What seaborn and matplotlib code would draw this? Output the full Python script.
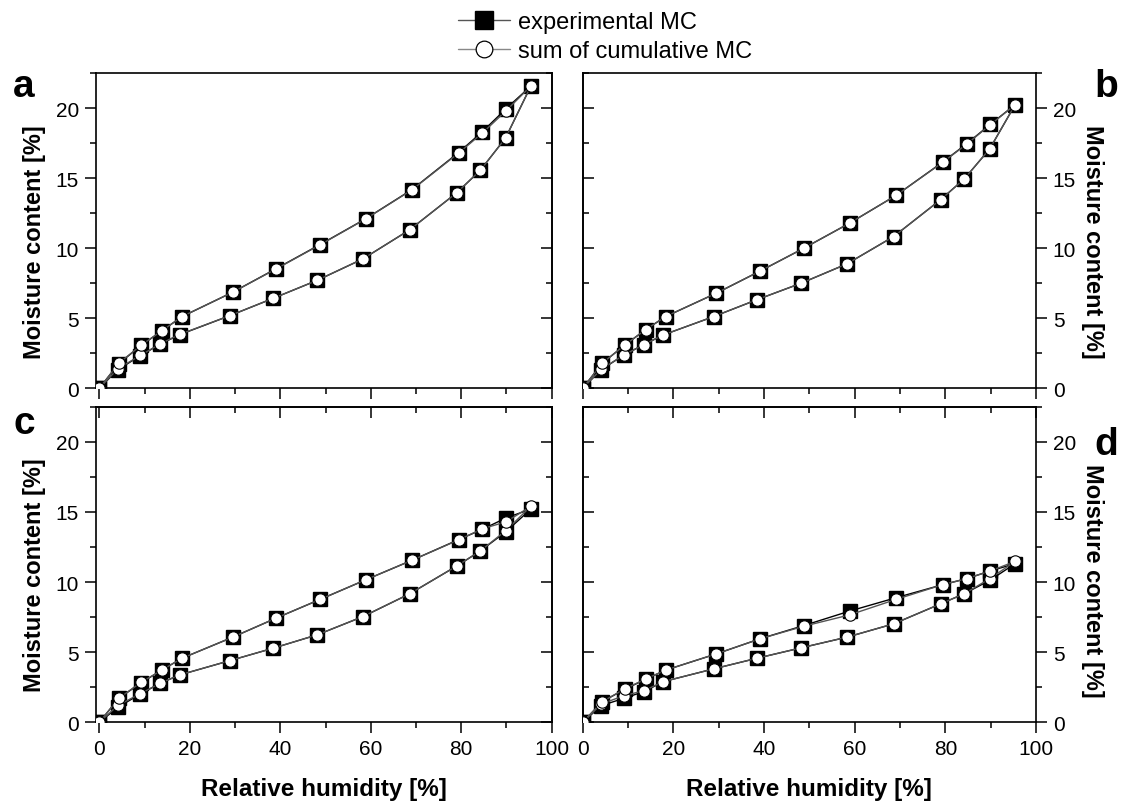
import matplotlib
matplotlib.use('Agg')
import matplotlib.pyplot as plt
import seaborn as sns
from matplotlib.lines import Line2D
from matplotlib.ticker import MultipleLocator

# ---------------- data ----------------
rh_ads = [0, 4.1, 9.1, 13.5, 17.8, 28.9, 38.5, 48.2, 58.3, 68.6, 79.0, 84.2, 89.8, 95.4]
rh_des = [95.4, 89.9, 84.7, 79.4, 69.1, 58.9, 48.8, 39.1, 29.5, 18.3, 13.9, 9.3, 4.3, 0]

a_ads_exp = [0, 1.33, 2.33, 3.16, 3.83, 5.19, 6.43, 7.71, 9.24, 11.31, 13.95, 15.55, 17.86, 21.57]
a_des_exp = [21.57, 19.95, 18.32, 16.82, 14.18, 12.10, 10.26, 8.54, 6.86, 5.12, 4.12, 3.07, 1.76, 0]
a_ads_cum = [0, 1.40, 2.35, 3.18, 3.85, 5.19, 6.43, 7.71, 9.24, 11.31, 13.95, 15.55, 17.86, 21.57]
a_des_cum = [21.57, 19.80, 18.22, 16.78, 14.16, 12.09, 10.24, 8.52, 6.86, 5.12, 4.12, 3.09, 1.79, 0]

b_ads_exp = [0, 1.33, 2.38, 3.12, 3.81, 5.12, 6.33, 7.50, 8.88, 10.83, 13.47, 14.95, 17.09, 20.24]
b_des_exp = [20.24, 18.83, 17.45, 16.14, 13.76, 11.79, 10.00, 8.36, 6.79, 5.12, 4.19, 3.09, 1.79, 0]
b_ads_cum = [0, 1.36, 2.38, 3.12, 3.81, 5.12, 6.33, 7.50, 8.88, 10.83, 13.47, 14.95, 17.09, 20.24]
b_des_cum = [20.24, 18.80, 17.42, 16.12, 13.76, 11.79, 10.00, 8.36, 6.79, 5.12, 4.19, 3.09, 1.79, 0]

c_ads_exp = [0, 1.07, 2.02, 2.79, 3.38, 4.40, 5.29, 6.24, 7.54, 9.16, 11.14, 12.21, 13.57, 15.20]
c_des_exp = [15.20, 14.57, 13.76, 13.02, 11.55, 10.16, 8.76, 7.43, 6.07, 4.57, 3.74, 2.83, 1.71, 0]
c_ads_cum = [0, 1.20, 2.05, 2.79, 3.38, 4.40, 5.29, 6.24, 7.54, 9.16, 11.14, 12.21, 13.65, 15.40]
c_des_cum = [15.40, 14.29, 13.80, 13.00, 11.55, 10.16, 8.76, 7.43, 6.07, 4.57, 3.74, 2.86, 1.71, 0]

d_ads_exp = [0, 1.19, 1.71, 2.19, 2.90, 3.81, 4.57, 5.31, 6.07, 7.02, 8.45, 9.17, 10.12, 11.31]
d_des_exp = [11.31, 10.79, 10.24, 9.81, 8.88, 7.93, 6.90, 5.95, 4.88, 3.72, 3.07, 2.36, 1.47, 0]
d_ads_cum = [0, 1.30, 1.90, 2.25, 2.90, 3.81, 4.57, 5.31, 6.07, 7.02, 8.45, 9.17, 10.24, 11.47]
d_des_cum = [11.47, 10.79, 10.24, 9.81, 8.76, 7.66, 6.85, 5.95, 4.88, 3.72, 3.09, 2.38, 1.47, 0]

panel_letters = ['a', 'b', 'c', 'd']
xlabel_text = 'Relative humidity [%]'
ylabel_text = 'Moisture content [%]'
legend_labels = ['experimental MC', 'sum of cumulative MC']

# ---------------- style ----------------
sns.set_theme(style='ticks')
plt.rcParams['font.family'] = ['Liberation Sans', 'DejaVu Sans']
plt.rcParams['axes.linewidth'] = 1.2
plt.rcParams['text.color'] = 'black'
plt.rcParams['axes.labelcolor'] = 'black'
plt.rcParams['xtick.color'] = 'black'
plt.rcParams['ytick.color'] = 'black'

fig = plt.figure(figsize=(11.27, 8.04), dpi=100)

W, H = 1127.0, 804.0
def frac(x0, y0, x1, y1):
    return [x0 / W, 1 - y1 / H, (x1 - x0) / W, (y1 - y0) / H]

positions = {
    'a': frac(95.7, 74.0, 551.7, 389.3),
    'b': frac(582.7, 74.0, 1036.0, 389.3),
    'c': frac(95.7, 407.7, 551.7, 723.3),
    'd': frac(582.7, 407.7, 1036.0, 723.3),
}
data = {
    'a': (a_ads_exp, a_des_exp, a_ads_cum, a_des_cum),
    'b': (b_ads_exp, b_des_exp, b_ads_cum, b_des_cum),
    'c': (c_ads_exp, c_des_exp, c_ads_cum, c_des_cum),
    'd': (d_ads_exp, d_des_exp, d_ads_cum, d_des_cum),
}
ylabel_ypos = {'a': 0.468, 'b': 0.468, 'c': 0.468, 'd': 0.452}

TICK = 15
LAB = 17.5
YLAB = 17
maj_len, min_len = 8, 4.5

def style_ticks(obj, axis_name, direction):
    obj.tick_params(axis=axis_name, which='major', length=maj_len, width=1.1,
                    direction=direction, colors='black')
    obj.tick_params(axis=axis_name, which='minor', length=min_len, width=1.1,
                    direction=direction, colors='black')

for key in panel_letters:
    ax = fig.add_axes(positions[key])
    ads_exp, des_exp, ads_cum, des_cum = data[key]
    x = rh_ads + rh_des[1:]
    y_exp = ads_exp + des_exp[1:]
    y_cum = ads_cum + des_cum[1:]

    sns.lineplot(x=x, y=y_exp, sort=False, estimator=None, ax=ax, color='black', lw=1.0,
                 marker='s', markersize=10, markerfacecolor='black', markeredgecolor='black',
                 markeredgewidth=1, zorder=3)
    sns.lineplot(x=x, y=y_cum, sort=False, estimator=None, ax=ax, color='#555555', lw=1.0,
                 marker='o', markersize=8.2, markerfacecolor='white', markeredgecolor='black',
                 markeredgewidth=0.8, zorder=4)

    right_side = key in ('b', 'd')
    bottom_row = key in ('c', 'd')
    ax.set_xlim(0 if right_side else -0.8, 100)
    ax.set_ylim(0, 22.5)
    ax.xaxis.set_major_locator(MultipleLocator(20))
    ax.xaxis.set_minor_locator(MultipleLocator(10))
    ax.yaxis.set_major_locator(MultipleLocator(5))
    ax.yaxis.set_minor_locator(MultipleLocator(2.5))
    for s in ax.spines.values():
        s.set_visible(True)
        s.set_linewidth(1.2)
        s.set_color('black')

    ax.tick_params(axis='x', which='both', bottom=True, top=False,
                   labelbottom=bottom_row, labelsize=TICK, pad=4)
    style_ticks(ax, 'x', 'out')
    if right_side:
        ax.yaxis.tick_right()
        ax.yaxis.set_label_position('right')
        ax.tick_params(axis='y', which='both', left=False, right=True, labelleft=False,
                       labelright=True, labelsize=TICK, pad=4)
    else:
        ax.tick_params(axis='y', which='both', left=True, right=False, labelleft=True,
                       labelright=False, labelsize=TICK, pad=4)
    style_ticks(ax, 'y', 'out')

    sec = ax.secondary_yaxis('left' if right_side else 'right')
    sec.yaxis.set_major_locator(MultipleLocator(5))
    sec.yaxis.set_minor_locator(MultipleLocator(2.5))
    style_ticks(sec, 'y', 'in')
    sec.tick_params(axis='y', which='both', labelleft=False, labelright=False)
    for s in sec.spines.values():
        s.set_linewidth(1.2)
        s.set_color('black')
    if bottom_row:
        sect = ax.secondary_xaxis('top')
        sect.xaxis.set_major_locator(MultipleLocator(20))
        sect.xaxis.set_minor_locator(MultipleLocator(10))
        style_ticks(sect, 'x', 'in')
        sect.tick_params(axis='x', which='both', labeltop=False, labelbottom=False)
        for s in sect.spines.values():
            s.set_linewidth(1.2)
            s.set_color('black')

    ax.set_xlabel(xlabel_text if bottom_row else '', fontsize=LAB, fontweight='bold',
                  labelpad=13.5, color='black')
    if right_side:
        ax.set_ylabel(ylabel_text, fontsize=YLAB, fontweight='bold', rotation=270,
                      va='bottom', ha='center', color='black')
        ax.yaxis.set_label_coords((1081 - 582.7) / 453.3, ylabel_ypos[key])
    else:
        ax.set_ylabel(ylabel_text, fontsize=YLAB, fontweight='bold', color='black')
        ax.yaxis.set_label_coords((46 - 95.7) / 456.0, ylabel_ypos[key])

letter_pos = {'a': (24, 97), 'b': (1106, 97), 'c': (24, 434), 'd': (1106, 455)}
for k, (px, py) in letter_pos.items():
    fig.text(px / W, 1 - py / H, k, fontsize=28, fontweight='bold', ha='center',
             va='baseline', color='black')

handles = [
    Line2D([], [], color='#555555', lw=1.0, marker='s', markersize=13,
           markerfacecolor='black', markeredgecolor='black'),
    Line2D([], [], color='#888888', lw=1.0, marker='o', markersize=12,
           markerfacecolor='white', markeredgecolor='black', markeredgewidth=0.9),
]
fig.legend(handles, legend_labels, loc='upper left', bbox_to_anchor=(458 / W, 1 - 12 / H),
           frameon=False, fontsize=17, handlelength=2.2, handletextpad=0.34,
           labelspacing=0.3, borderaxespad=0, borderpad=0, labelcolor='black')

fig.savefig('out.png', dpi=100, facecolor='white')
